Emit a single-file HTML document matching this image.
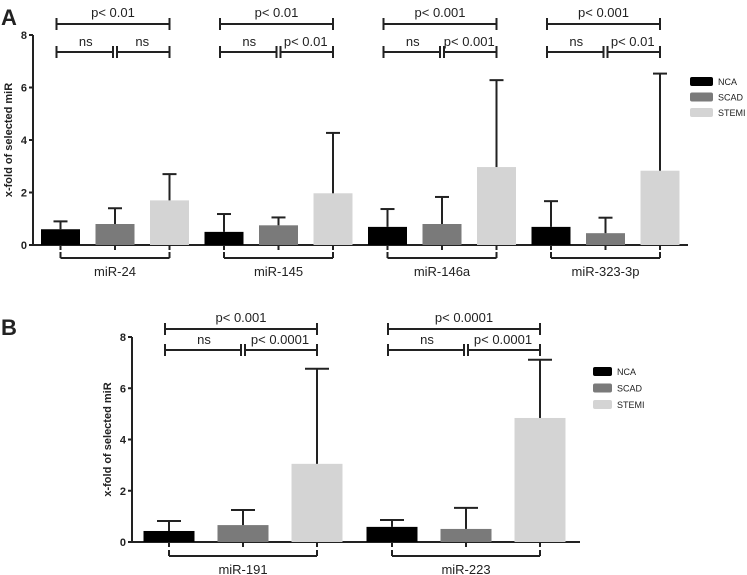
<!DOCTYPE html>
<html><head><meta charset="utf-8"><style>
body{margin:0;background:#fff;}
svg{display:block;font-family:"Liberation Sans",Arial,sans-serif;}
</style></head><body>
<svg id="c" width="747" height="575"></svg>
<script>
const groupsA=["miR-24","miR-145","miR-146a","miR-323-3p"];
const ncaA=[0.6,0.5,0.69,0.69];
const ncaErrA=[0.9,1.18,1.37,1.67];
const scadA=[0.8,0.75,0.8,0.45];
const scadErrA=[1.4,1.05,1.83,1.04];
const stemiA=[1.7,1.97,2.97,2.83];
const stemiErrA=[2.7,4.27,6.28,6.53];
const pTopA=["p< 0.01","p< 0.01","p< 0.001","p< 0.001"];
const pLeftA=["ns","ns","ns","ns"];
const pRightA=["ns","p< 0.01","p< 0.001","p< 0.01"];
const groupsB=["miR-191","miR-223"];
const ncaB=[0.43,0.59];
const ncaErrB=[0.82,0.86];
const scadB=[0.66,0.51];
const scadErrB=[1.25,1.33];
const stemiB=[3.05,4.84];
const stemiErrB=[6.76,7.11];
const pTopB=["p< 0.001","p< 0.0001"];
const pLeftB=["ns","ns"];
const pRightB=["p< 0.0001","p< 0.0001"];
const yTicks=[0,2,4,6,8];
const seriesNames=["NCA","SCAD","STEMI"];
const colors=["#000","#7a7a7a","#d4d4d4"];
const svg=document.getElementById('c');
const NS="http://www.w3.org/2000/svg";
function el(t,a,txt){const e=document.createElementNS(NS,t);for(const k in a)e.setAttribute(k,a[k]);if(txt!==undefined)e.textContent=txt;svg.appendChild(e);return e;}
function line(x1,y1,x2,y2,w,name){const e=el('line',{x1,y1,x2,y2,stroke:'#222','stroke-width':w||2});

return e;}
function text(x,y,s,size,name,extra){const a=Object.assign({x,y,'font-size':size,fill:'#222','text-anchor':'middle'},extra||{});const e=el('text',a,s);

return e;}
function panel(cfg){
 const {ax,y0,y8,xEnd,c0,gp,bp,bw,groups,vals,errs,pTop,pLeft,pRight,topY,lowY,brY,legX,legY,legW,legH,legGap,titleX,capW}=cfg;
 const y=v=>y0-(y0-y8)*v/8;
 line(ax,y0,ax,y8,2,'y-axis');
 line(ax,y0,xEnd,y0,2,'x-axis');
 yTicks.forEach(t=>{line(ax-4,y(t),ax,y(t),2,'y-tick');text(ax-6,y(t)+4,String(t),11,'y-tick-label',{'text-anchor':'end','font-weight':'bold'});});
 text(titleX,(y0+y8)/2,'x-fold of selected miR',11,'y-axis-title',{'font-weight':'bold',transform:`rotate(-90 ${titleX} ${(y0+y8)/2})`});
 groups.forEach((g,gi)=>{
  const cx=[0,1,2].map(s=>c0+gi*gp+(s-1)*bp);
  [0,1,2].forEach(s=>{
   const v=vals[s][gi],e=errs[s][gi];
   const r=el('rect',{x:cx[s]-bw/2,y:y(v),width:bw,height:y0-y(v),fill:colors[s]});
   
   
   line(cx[s],y(v),cx[s],y(e),2,'error-bar');
   line(cx[s]-capW,y(e),cx[s]+capW,y(e),2,'error-cap');
   line(cx[s],y0,cx[s],y0+5,2,'x-tick');
  });
  line(cx[0],brY-6,cx[0],brY,2,'group-bracket');line(cx[2],brY-6,cx[2],brY,2,'group-bracket');line(cx[0],brY,cx[2],brY,2,'group-bracket');
  text(cx[1],brY+18,g,13,'group-label');
  const L=cx[0]-4,R=cx[2],M=cx[1];
  line(L,topY,R,topY,2,'sig-bracket');line(L,topY-6,L,topY+6,2,'sig-end');line(R,topY-6,R,topY+6,2,'sig-end');
  text((L+R)/2,topY-7,pTop[gi],13,'p-value-label');
  line(L,lowY,M-2,lowY,2,'sig-bracket');line(M+2,lowY,R,lowY,2,'sig-bracket');
  [L,M-2,M+2,R].forEach(x=>line(x,lowY-6,x,lowY+6,2,'sig-end'));
  text((L+M)/2,lowY-6,pLeft[gi],13,'p-value-label');
  text((M+R)/2,lowY-6,pRight[gi],13,'p-value-label');
 });
 seriesNames.forEach((n,i)=>{
  const r=el('rect',{x:legX,y:legY+i*legGap,width:legW,height:legH,rx:2,fill:colors[i]});
  
  
  text(legX+legW+5,legY+i*legGap+legH-1,n,9,'legend-entry-'+n,{'text-anchor':'start'});
 });
}
panel({ax:33,y0:245,y8:35,xEnd:688,c0:115,gp:163.5,bp:54.5,bw:39,groups:groupsA,
 vals:[ncaA,scadA,stemiA],errs:[ncaErrA,scadErrA,stemiErrA],pTop:pTopA,pLeft:pLeftA,pRight:pRightA,
 topY:24,lowY:52,brY:258,legX:690,legY:77,legW:23,legH:9,legGap:15.5,titleX:12,capW:7});
panel({ax:132,y0:542,y8:337,xEnd:580,c0:243,gp:223,bp:74,bw:51,groups:groupsB,
 vals:[ncaB,scadB,stemiB],errs:[ncaErrB,scadErrB,stemiErrB],pTop:pTopB,pLeft:pLeftB,pRight:pRightB,
 topY:329,lowY:350,brY:556,legX:593,legY:367,legW:19,legH:9,legGap:16.5,titleX:111,capW:12});
text(1,25,'A',22,'panel-label-a',{'text-anchor':'start','font-weight':'bold'});
text(1,335,'B',22,'panel-label-b',{'text-anchor':'start','font-weight':'bold'});
</script>
</body></html>
